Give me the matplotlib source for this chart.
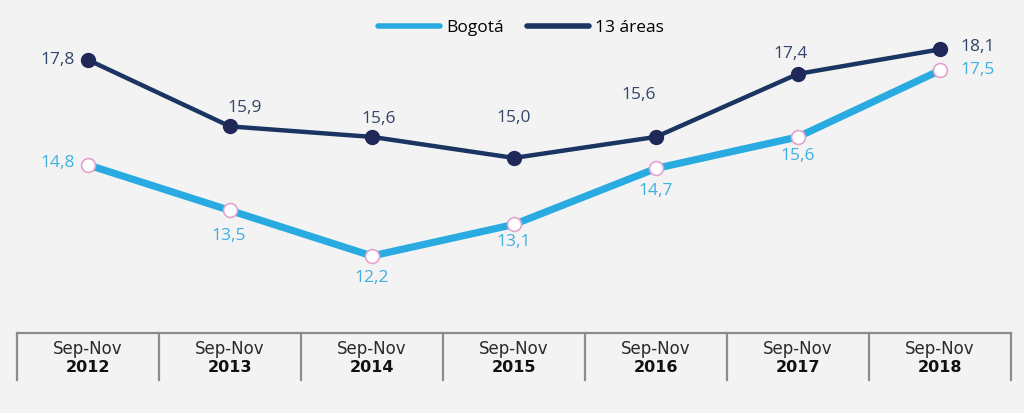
import matplotlib
matplotlib.use("Agg")
import matplotlib.pyplot as plt
import numpy as np

periods = ["Sep-Nov"] * 7
years = ["2012", "2013", "2014", "2015", "2016", "2017", "2018"]
bogota = [14.8, 13.5, 12.2, 13.1, 14.7, 15.6, 17.5]
areas13 = [17.8, 15.9, 15.6, 15.0, 15.6, 17.4, 18.1]

# label offsets in pixels (dx, dy, ha)
areas_off = [(-13, 0, "right"), (15, 18, "center"), (7, 18, "center"), (0, 40, "center"),
             (-17, 42, "center"), (-7, 20, "center"), (20, 2, "left")]
bog_off = [(-13, 2, "right"), (-1, -26, "center"), (0, -22, "center"), (0, -18, "center"),
           (0, -23, "center"), (0, -19, "center"), (20, 0, "left")]

BG = "#f3f3f3"
LIGHT = "#29abe2"
NAVY = "#1a3561"
NAVY_MK = "#1f2859"
PINK = "#e3a3cc"
GRID = "#8c8c8c"
NUMFONT = ["Open Sans", "DejaVu Sans"]

plt.rcParams["font.family"] = ["DejaVu Sans"]

fig = plt.figure(figsize=(10.24, 4.13), dpi=100, facecolor=BG)
ax = fig.add_axes([17 / 1024, 1 - 333 / 413, 994 / 1024, 333 / 413])
ax.set_facecolor(BG)

x = np.arange(len(years))
ax.plot(x, bogota, color=LIGHT, lw=5.2, solid_capstyle="round", zorder=2, label="Bogotá",
        marker="o", markersize=10, markerfacecolor="white", markeredgecolor=PINK, markeredgewidth=1.2)
ax.plot(x, areas13, color=NAVY, lw=3.2, zorder=3, label="13 áreas",
        marker="o", markersize=10, markerfacecolor=NAVY_MK, markeredgecolor=NAVY_MK)

for xi, v, (dx, dy, ha) in zip(x, areas13, areas_off):
    ax.annotate(f"{v:.1f}".replace(".", ","), (xi, v), xytext=(dx, dy), textcoords="offset pixels",
                ha=ha, va="center", fontsize=12.5, color="#33456a", family=NUMFONT)
for xi, v, (dx, dy, ha) in zip(x, bogota, bog_off):
    ax.annotate(f"{v:.1f}".replace(".", ","), (xi, v), xytext=(dx, dy), textcoords="offset pixels",
                ha=ha, va="center", fontsize=12.5, color="#3fb0e0", family=NUMFONT)

ax.set_xlim(-0.5, len(years) - 0.5)
ax.set_ylim(10, 19.51)
ax.set_xticks([])
ax.set_yticks([])
for s in ["top", "right", "left"]:
    ax.spines[s].set_visible(False)
ax.spines["bottom"].set_color(GRID)
ax.spines["bottom"].set_linewidth(1.6)

# category dividers and two-line labels below the axis
trans = ax.get_xaxis_transform()
for b in np.arange(len(years) + 1) - 0.5:
    ax.plot([b, b], [0, -47 / 333], color=GRID, lw=1.6, transform=trans, clip_on=False)
for xi, p, yr in zip(x, periods, years):
    ax.text(xi, -16 / 333, p, transform=trans, ha="center", va="center",
            fontsize=12, color="#2a2a2a")
    ax.text(xi, -35 / 333, yr, transform=trans, ha="center", va="center",
            fontsize=11.5, fontweight="bold", color="#111111")

leg = fig.legend(loc="center", bbox_to_anchor=(521 / 1024, 1 - 28 / 413), ncol=2, frameon=False,
                 handlelength=3.6, columnspacing=1.3, handletextpad=0.35,
                 prop={"family": ["Open Sans", "DejaVu Sans"], "size": 12.5})
for h in leg.get_lines():
    h.set_marker("")
    h.set_solid_capstyle("round")
    h.set_linewidth(4)

fig.savefig("out.png", dpi=100, facecolor=BG)
